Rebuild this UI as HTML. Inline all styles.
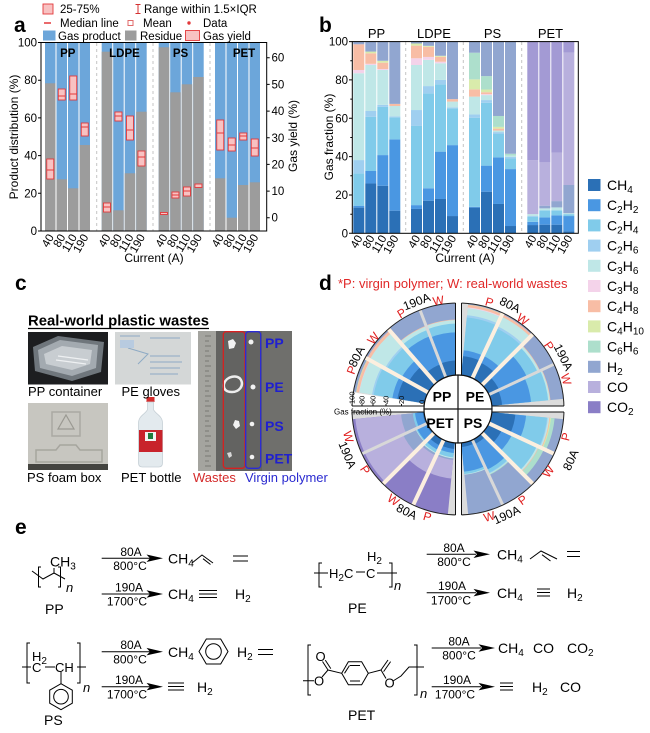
<!DOCTYPE html>
<html><head><meta charset="utf-8">
<style>
html,body{margin:0;padding:0;background:#fff;}
svg{display:block;font-family:"Liberation Sans",Arial,sans-serif;}
.a{fill:#2b70b6}.b{fill:#4a97e2}.c{fill:#80cbea}.d{fill:#9fcff0}.e{fill:#bfe7e7}.f{fill:#f4d3ea}.g{fill:#f8bda5}.h{fill:#d9ebab}.i{fill:#addfcc}.j{fill:#91a6d0}.k{fill:#b8b0dd}.l{fill:#a39ad4}.m{fill:#8a7ec6}
.s{font-size:10px}
.ax{stroke:#000;stroke-width:1;fill:none}
.bx{fill:#f8c2c2;stroke:#e3393b;stroke-width:.9}
.md{stroke:#e3393b;stroke-width:1}
</style></head><body>
<svg width="650" height="733" viewBox="0 0 650 733">
<defs>
<clipPath id="w"><polygon points="0,0 130,-21.75 130,21.75"/></clipPath>
</defs>

<!-- ================= PANEL A ================= -->
<text x="14" y="32" font-size="21" font-weight="bold">a</text>
<g font-size="11.5">
<rect x="43" y="4" width="10" height="10" class="bx"/>
<text x="60" y="13">25-75%</text>
<path d="M135.5 4.5h5M138 4.5v9M135.5 13.5h5" stroke="#d43030" fill="none"/>
<text x="144" y="13">Range within 1.5×IQR</text>
<path d="M44 23h7" stroke="#e3393b" stroke-width="1.5"/>
<text x="60" y="27">Median line</text>
<rect x="128" y="20.5" width="5" height="5" fill="#fff" stroke="#e06a6a"/>
<text x="143" y="27">Mean</text>
<circle cx="189" cy="23" r="1.7" fill="#e3393b"/>
<text x="203" y="27">Data</text>
<rect x="43" y="30.5" width="12.5" height="10" fill="#6ca6da"/>
<text x="58" y="40">Gas product</text>
<rect x="125" y="30.5" width="11.5" height="10" fill="#9c9c9c"/>
<text x="140" y="40">Residue</text>
<rect x="185.5" y="30.5" width="14" height="10" class="bx"/>
<text x="203" y="40">Gas yield</text>
</g>

<!-- bars a -->
<g>
<rect x="45" y="42.5" width="10.5" height="188.5" fill="#6ca6da"/><rect x="45" y="83.3" width="10.5" height="147.7" fill="#9c9c9c"/>
<rect x="56.5" y="42.5" width="10.5" height="188.5" fill="#6ca6da"/><rect x="56.5" y="179.3" width="10.5" height="51.7" fill="#9c9c9c"/>
<rect x="68" y="42.5" width="10.5" height="188.5" fill="#6ca6da"/><rect x="68" y="188.3" width="10.5" height="42.7" fill="#9c9c9c"/>
<rect x="79.5" y="42.5" width="10.5" height="188.5" fill="#6ca6da"/><rect x="79.5" y="145" width="10.5" height="86" fill="#9c9c9c"/>

<rect x="101.7" y="42.5" width="10.5" height="188.5" fill="#6ca6da"/><rect x="101.7" y="51.7" width="10.5" height="179.3" fill="#9c9c9c"/>
<rect x="113.2" y="42.5" width="10.5" height="188.5" fill="#6ca6da"/><rect x="113.2" y="210.3" width="10.5" height="20.7" fill="#9c9c9c"/>
<rect x="124.7" y="42.5" width="10.5" height="188.5" fill="#6ca6da"/><rect x="124.7" y="173.3" width="10.5" height="57.7" fill="#9c9c9c"/>
<rect x="136.2" y="42.5" width="10.5" height="188.5" fill="#6ca6da"/><rect x="136.2" y="111.7" width="10.5" height="119.3" fill="#9c9c9c"/>

<rect x="158.7" y="42.5" width="10.5" height="188.5" fill="#6ca6da"/><rect x="158.7" y="47.3" width="10.5" height="183.7" fill="#9c9c9c"/>
<rect x="170.2" y="42.5" width="10.5" height="188.5" fill="#6ca6da"/><rect x="170.2" y="92.3" width="10.5" height="138.7" fill="#9c9c9c"/>
<rect x="181.7" y="42.5" width="10.5" height="188.5" fill="#6ca6da"/><rect x="181.7" y="84.3" width="10.5" height="146.7" fill="#9c9c9c"/>
<rect x="193.2" y="42.5" width="10.5" height="188.5" fill="#6ca6da"/><rect x="193.2" y="77" width="10.5" height="154" fill="#9c9c9c"/>

<rect x="215" y="42.5" width="10.5" height="188.5" fill="#6ca6da"/><rect x="215" y="178.3" width="10.5" height="52.7" fill="#9c9c9c"/>
<rect x="226.5" y="42.5" width="10.5" height="188.5" fill="#6ca6da"/><rect x="226.5" y="217.7" width="10.5" height="13.3" fill="#9c9c9c"/>
<rect x="238" y="42.5" width="10.5" height="188.5" fill="#6ca6da"/><rect x="238" y="185" width="10.5" height="46" fill="#9c9c9c"/>
<rect x="249.5" y="42.5" width="10.5" height="188.5" fill="#6ca6da"/><rect x="249.5" y="182.3" width="10.5" height="48.7" fill="#9c9c9c"/>
</g>
<g stroke="#c4c4c4" stroke-dasharray="3,3" stroke-width="1">
<line x1="96.7" y1="43" x2="96.7" y2="231"/><line x1="153" y1="43" x2="153" y2="231"/><line x1="210" y1="43" x2="210" y2="231"/>
</g>
<!-- gas yield boxes -->
<g>
<rect x="46.75" y="159" width="7" height="20" class="bx"/><line x1="46.75" x2="53.75" y1="170" y2="170" class="md"/>
<rect x="58.25" y="89" width="7" height="11" class="bx"/><line x1="58.25" x2="65.25" y1="96" y2="96" class="md"/>
<rect x="69.75" y="76" width="7" height="24" class="bx"/><line x1="69.75" x2="76.75" y1="94" y2="94" class="md"/>
<rect x="81.25" y="123" width="7" height="13" class="bx"/><line x1="81.25" x2="88.25" y1="127" y2="127" class="md"/>
<rect x="103.45" y="203" width="7" height="9" class="bx"/><line x1="103.45" x2="110.45" y1="207" y2="207" class="md"/>
<rect x="114.95" y="112" width="7" height="9" class="bx"/><line x1="114.95" x2="121.95" y1="116" y2="116" class="md"/>
<rect x="126.45" y="116" width="7" height="24" class="bx"/><line x1="126.45" x2="133.45" y1="130" y2="130" class="md"/>
<rect x="137.95" y="151" width="7" height="15" class="bx"/><line x1="137.95" x2="144.95" y1="157" y2="157" class="md"/>
<rect x="160.45" y="212.5" width="7" height="2" class="bx"/>
<rect x="171.95" y="192" width="7" height="6" class="bx"/><line x1="171.95" x2="178.95" y1="195" y2="195" class="md"/>
<rect x="183.45" y="187" width="7" height="9" class="bx"/><line x1="183.45" x2="190.45" y1="191" y2="191" class="md"/>
<rect x="194.95" y="184" width="7" height="3.5" class="bx"/>
<rect x="216.75" y="120" width="7" height="30" class="bx"/><line x1="216.75" x2="223.75" y1="133" y2="133" class="md"/>
<rect x="228.25" y="138" width="7" height="13" class="bx"/><line x1="228.25" x2="235.25" y1="145" y2="145" class="md"/>
<rect x="239.75" y="133" width="7" height="7" class="bx"/><line x1="239.75" x2="246.75" y1="136" y2="136" class="md"/>
<rect x="251.25" y="139" width="7" height="17" class="bx"/><line x1="251.25" x2="258.25" y1="148" y2="148" class="md"/>
</g>
<g font-size="11.5" font-weight="bold" text-anchor="middle">
<text x="67.8" y="57">PP</text><text x="124.5" y="57">LDPE</text><text x="180.5" y="57">PS</text><text x="244" y="57">PET</text>
</g>
<!-- axes a -->
<rect x="41" y="42.5" width="225.7" height="188.5" class="ax"/>
<path class="ax" d="M38 42.5h3M38 80.2h3M38 117.9h3M38 155.6h3M38 193.3h3M38 231h3M266.7 57.7h3M266.7 84.4h3M266.7 111.1h3M266.7 137.8h3M266.7 164.4h3M266.7 191.1h3M266.7 217.7h3"/>
<g font-size="11.5" text-anchor="end">
<text x="37" y="46.5">100</text><text x="37" y="84.2">80</text><text x="37" y="121.9">60</text><text x="37" y="159.6">40</text><text x="37" y="197.3">20</text><text x="37" y="235">0</text>
</g>
<g font-size="11.5">
<text x="271.5" y="61.7">60</text><text x="271.5" y="88.4">50</text><text x="271.5" y="115.1">40</text><text x="271.5" y="141.8">30</text><text x="271.5" y="168.4">20</text><text x="271.5" y="195.1">10</text><text x="271.5" y="221.7">0</text>
</g>
<g font-size="11.5" text-anchor="end">
<text transform="translate(54.3,237) rotate(-60)">40</text><text transform="translate(65.8,237) rotate(-60)">80</text><text transform="translate(77.3,237) rotate(-60)">110</text><text transform="translate(88.8,237) rotate(-60)">190</text>
<text transform="translate(111,237) rotate(-60)">40</text><text transform="translate(122.5,237) rotate(-60)">80</text><text transform="translate(134,237) rotate(-60)">110</text><text transform="translate(145.5,237) rotate(-60)">190</text>
<text transform="translate(168,237) rotate(-60)">40</text><text transform="translate(179.5,237) rotate(-60)">80</text><text transform="translate(191,237) rotate(-60)">110</text><text transform="translate(202.5,237) rotate(-60)">190</text>
<text transform="translate(224.3,237) rotate(-60)">40</text><text transform="translate(235.8,237) rotate(-60)">80</text><text transform="translate(247.3,237) rotate(-60)">110</text><text transform="translate(258.8,237) rotate(-60)">190</text>
</g>
<text transform="translate(18,137) rotate(-90)" text-anchor="middle" font-size="12">Product distribution (%)</text>
<text transform="translate(297,136) rotate(-90)" text-anchor="middle" font-size="12">Gas yield (%)</text>
<text x="154" y="262" text-anchor="middle" font-size="12">Current (A)</text>

<!-- ================= PANEL B ================= -->
<text x="319" y="32" font-size="21" font-weight="bold">b</text>
<g font-size="13" text-anchor="middle">
<text x="376.5" y="38">PP</text><text x="434" y="38">LDPE</text><text x="492.5" y="38">PS</text><text x="550.5" y="38">PET</text>
</g>
<g transform="translate(353.3,233.3) scale(1,-1.917)">
<rect class="a" width="11" y="0" height="13.4"/><rect class="b" width="11" y="13.4" height="1"/><rect class="c" width="11" y="14.4" height="16.9"/><rect class="d" width="11" y="31.3" height="6.9"/><rect class="e" width="11" y="38.2" height="45.3"/><rect class="f" width="11" y="83.5" height="1.7"/><rect class="g" width="11" y="85.2" height="13.4"/><rect class="j" width="11" y="98.6" height="1.4"/>
</g>
<g transform="translate(365.3,233.3) scale(1,-1.917)">
<rect class="a" width="11" y="0" height="26"/><rect class="b" width="11" y="26" height="6.5"/><rect class="c" width="11" y="32.5" height="28.3"/><rect class="d" width="11" y="60.8" height="3"/><rect class="e" width="11" y="63.8" height="24"/><rect class="f" width="11" y="87.8" height=".6"/><rect class="g" width="11" y="88.4" height="5.5"/><rect class="h" width="11" y="93.9" height=".9"/><rect class="j" width="11" y="94.8" height="5.2"/>
</g>
<g transform="translate(377.3,233.3) scale(1,-1.917)">
<rect class="a" width="11" y="0" height="24.8"/><rect class="b" width="11" y="24.8" height="16"/><rect class="c" width="11" y="40.8" height="25.2"/><rect class="d" width="11" y="66" height="1"/><rect class="e" width="11" y="67" height="18.2"/><rect class="f" width="11" y="85.2" height=".5"/><rect class="g" width="11" y="85.7" height="3.3"/><rect class="h" width="11" y="89" height="1"/><rect class="j" width="11" y="90" height="10"/>
</g>
<g transform="translate(389.3,233.3) scale(1,-1.917)">
<rect class="a" width="11" y="0" height="11.8"/><rect class="b" width="11" y="11.8" height="37.2"/><rect class="c" width="11" y="49" height="11.5"/><rect class="d" width="11" y="60.5" height=".5"/><rect class="e" width="11" y="61" height="5.4"/><rect class="g" width="11" y="66.4" height="1.1"/><rect class="j" width="11" y="67.5" height="32.5"/>
</g>
<g transform="translate(411,233.3) scale(1,-1.917)">
<rect class="a" width="11" y="0" height="12.7"/><rect class="b" width="11" y="12.7" height="2"/><rect class="c" width="11" y="14.7" height="41.3"/><rect class="d" width="11" y="56" height="8.3"/><rect class="e" width="11" y="64.3" height="23.5"/><rect class="f" width="11" y="87.8" height="3.5"/><rect class="g" width="11" y="91.3" height="6.6"/><rect class="h" width="11" y="97.9" height="1.1"/><rect class="j" width="11" y="99" height="1"/>
</g>
<g transform="translate(423,233.3) scale(1,-1.917)">
<rect class="a" width="11" y="0" height="17"/><rect class="b" width="11" y="17" height="6.5"/><rect class="c" width="11" y="23.5" height="49.5"/><rect class="d" width="11" y="73" height="3.8"/><rect class="e" width="11" y="76.8" height="13.7"/><rect class="f" width="11" y="90.5" height="1.5"/><rect class="g" width="11" y="92" height="5.3"/><rect class="h" width="11" y="97.3" height=".5"/><rect class="j" width="11" y="97.8" height="2.2"/>
</g>
<g transform="translate(435,233.3) scale(1,-1.917)">
<rect class="a" width="11" y="0" height="17.9"/><rect class="b" width="11" y="17.9" height="24.7"/><rect class="c" width="11" y="42.6" height="35.1"/><rect class="d" width="11" y="77.7" height="2.3"/><rect class="e" width="11" y="80" height="8.7"/><rect class="f" width="11" y="88.7" height=".8"/><rect class="g" width="11" y="89.5" height="2.6"/><rect class="h" width="11" y="92.1" height=".5"/><rect class="j" width="11" y="92.6" height="7.4"/>
</g>
<g transform="translate(447,233.3) scale(1,-1.917)">
<rect class="a" width="11" y="0" height="9"/><rect class="b" width="11" y="9" height="37"/><rect class="c" width="11" y="46" height="19.2"/><rect class="d" width="11" y="65.2" height=".5"/><rect class="e" width="11" y="65.7" height="3"/><rect class="g" width="11" y="68.7" height="1.3"/><rect class="j" width="11" y="70" height="30"/>
</g>
<g transform="translate(469,233.3) scale(1,-1.917)">
<rect class="a" width="11" y="0" height="13.4"/><rect class="b" width="11" y="13.4" height=".4"/><rect class="c" width="11" y="13.8" height="46.5"/><rect class="d" width="11" y="60.3" height="1.7"/><rect class="e" width="11" y="62" height="9.3"/><rect class="g" width="11" y="71.3" height="3.8"/><rect class="h" width="11" y="75.1" height="5.2"/><rect class="i" width="11" y="80.3" height="13.9"/><rect class="j" width="11" y="94.2" height="5.8"/>
</g>
<g transform="translate(481,233.3) scale(1,-1.917)">
<rect class="a" width="11" y="0" height="21.7"/><rect class="b" width="11" y="21.7" height="13.6"/><rect class="c" width="11" y="35.3" height="32.8"/><rect class="d" width="11" y="68.1" height="1.4"/><rect class="e" width="11" y="69.5" height="2.6"/><rect class="f" width="11" y="72.1" height=".5"/><rect class="g" width="11" y="72.6" height="1"/><rect class="h" width="11" y="73.6" height="1.4"/><rect class="i" width="11" y="75" height="7"/><rect class="j" width="11" y="82" height="18"/>
</g>
<g transform="translate(493,233.3) scale(1,-1.917)">
<rect class="a" width="11" y="0" height="15.3"/><rect class="b" width="11" y="15.3" height="24.3"/><rect class="c" width="11" y="39.6" height="12.2"/><rect class="d" width="11" y="51.8" height="1"/><rect class="e" width="11" y="52.8" height=".8"/><rect class="g" width="11" y="53.6" height="1"/><rect class="h" width="11" y="54.6" height=".9"/><rect class="i" width="11" y="55.5" height="5.7"/><rect class="j" width="11" y="61.2" height="38.8"/>
</g>
<g transform="translate(505,233.3) scale(1,-1.917)">
<rect class="a" width="11" y="0" height="3.8"/><rect class="b" width="11" y="3.8" height="29.7"/><rect class="c" width="11" y="33.5" height="5.5"/><rect class="d" width="11" y="39" height=".8"/><rect class="e" width="11" y="39.8" height=".8"/><rect class="i" width="11" y="40.6" height=".9"/><rect class="j" width="11" y="41.5" height="58.5"/>
</g>
<g transform="translate(527.3,233.3) scale(1,-1.917)">
<rect class="a" width="11" y="0" height="4.3"/><rect class="b" width="11" y="4.3" height="1.7"/><rect class="c" width="11" y="6" height="2.5"/><rect class="d" width="11" y="8.5" height=".5"/><rect class="e" width="11" y="9" height="1"/><rect class="k" width="11" y="10" height="28.2"/><rect class="l" width="11" y="38.2" height="61.8"/>
</g>
<g transform="translate(539.3,233.3) scale(1,-1.917)">
<rect class="a" width="11" y="0" height="4.5"/><rect class="b" width="11" y="4.5" height="3.8"/><rect class="c" width="11" y="8.3" height="3.7"/><rect class="e" width="11" y="12" height="1"/><rect class="j" width="11" y="13" height="1.4"/><rect class="k" width="11" y="14.4" height="22.6"/><rect class="l" width="11" y="37" height="63"/>
</g>
<g transform="translate(551.3,233.3) scale(1,-1.917)">
<rect class="a" width="11" y="0" height="4.5"/><rect class="b" width="11" y="4.5" height="4.9"/><rect class="c" width="11" y="9.4" height="2.6"/><rect class="e" width="11" y="12" height="1.5"/><rect class="j" width="11" y="13.5" height="3.3"/><rect class="k" width="11" y="16.8" height="25.2"/><rect class="l" width="11" y="42" height="58"/>
</g>
<g transform="translate(563.3,233.3) scale(1,-1.917)">
<rect class="a" width="11" y="0" height="1"/><rect class="b" width="11" y="1" height="8"/><rect class="c" width="11" y="9" height="1"/><rect class="e" width="11" y="10" height=".5"/><rect class="j" width="11" y="10.5" height="14.7"/><rect class="k" width="11" y="25.2" height="69"/><rect class="l" width="11" y="94.2" height="5.8"/>
</g>
<g stroke="#c4c4c4" stroke-dasharray="3,3" stroke-width="1">
<line x1="405.7" y1="42" x2="405.7" y2="233"/><line x1="463.3" y1="42" x2="463.3" y2="233"/><line x1="521.7" y1="42" x2="521.7" y2="233"/>
</g>
<rect x="352.3" y="41.6" width="226" height="191.7" class="ax"/>
<path class="ax" d="M349 41.6h3.3M349 79.9h3.3M349 118.3h3.3M349 156.6h3.3M349 195h3.3M349 233.3h3.3M350.3 60.8h2M350.3 99.1h2M350.3 137.5h2M350.3 175.8h2M350.3 214.2h2"/>
<g font-size="11.5" text-anchor="end">
<text x="348" y="45.6">100</text><text x="348" y="83.9">80</text><text x="348" y="122.3">60</text><text x="348" y="160.6">40</text><text x="348" y="199">20</text><text x="348" y="237.3">0</text>
</g>
<g font-size="11.5" text-anchor="end">
<text transform="translate(363,238) rotate(-60)">40</text><text transform="translate(375,238) rotate(-60)">80</text><text transform="translate(387,238) rotate(-60)">110</text><text transform="translate(399,238) rotate(-60)">190</text>
<text transform="translate(420.7,238) rotate(-60)">40</text><text transform="translate(432.7,238) rotate(-60)">80</text><text transform="translate(444.7,238) rotate(-60)">110</text><text transform="translate(456.7,238) rotate(-60)">190</text>
<text transform="translate(478.7,238) rotate(-60)">40</text><text transform="translate(490.7,238) rotate(-60)">80</text><text transform="translate(502.7,238) rotate(-60)">110</text><text transform="translate(514.7,238) rotate(-60)">190</text>
<text transform="translate(537,238) rotate(-60)">40</text><text transform="translate(549,238) rotate(-60)">80</text><text transform="translate(561,238) rotate(-60)">110</text><text transform="translate(573,238) rotate(-60)">190</text>
</g>
<text transform="translate(333,137) rotate(-90)" text-anchor="middle" font-size="12">Gas fraction (%)</text>
<text x="465" y="262" text-anchor="middle" font-size="12">Current (A)</text>

<!-- legend b -->
<g>
<rect x="588" y="179" width="12.5" height="12" class="a"/>
<rect x="588" y="199.2" width="12.5" height="12" class="b"/>
<rect x="588" y="219.4" width="12.5" height="12" class="c"/>
<rect x="588" y="239.6" width="12.5" height="12" class="d"/>
<rect x="588" y="259.8" width="12.5" height="12" class="e"/>
<rect x="588" y="280" width="12.5" height="12" class="f"/>
<rect x="588" y="300.2" width="12.5" height="12" class="g"/>
<rect x="588" y="320.4" width="12.5" height="12" class="h"/>
<rect x="588" y="340.6" width="12.5" height="12" class="i"/>
<rect x="588" y="360.8" width="12.5" height="12" class="j"/>
<rect x="588" y="381" width="12.5" height="12" class="k"/>
<rect x="588" y="401.2" width="12.5" height="12" class="m"/>
</g>
<g font-size="14">
<text x="607" y="190">CH<tspan class="s" dy="3">4</tspan></text>
<text x="607" y="210.2">C<tspan class="s" dy="3">2</tspan><tspan dy="-3">H</tspan><tspan class="s" dy="3">2</tspan></text>
<text x="607" y="230.4">C<tspan class="s" dy="3">2</tspan><tspan dy="-3">H</tspan><tspan class="s" dy="3">4</tspan></text>
<text x="607" y="250.6">C<tspan class="s" dy="3">2</tspan><tspan dy="-3">H</tspan><tspan class="s" dy="3">6</tspan></text>
<text x="607" y="270.8">C<tspan class="s" dy="3">3</tspan><tspan dy="-3">H</tspan><tspan class="s" dy="3">6</tspan></text>
<text x="607" y="291">C<tspan class="s" dy="3">3</tspan><tspan dy="-3">H</tspan><tspan class="s" dy="3">8</tspan></text>
<text x="607" y="311.2">C<tspan class="s" dy="3">4</tspan><tspan dy="-3">H</tspan><tspan class="s" dy="3">8</tspan></text>
<text x="607" y="331.4">C<tspan class="s" dy="3">4</tspan><tspan dy="-3">H</tspan><tspan class="s" dy="3">10</tspan></text>
<text x="607" y="351.6">C<tspan class="s" dy="3">6</tspan><tspan dy="-3">H</tspan><tspan class="s" dy="3">6</tspan></text>
<text x="607" y="371.8">H<tspan class="s" dy="3">2</tspan></text>
<text x="607" y="392">CO</text>
<text x="607" y="412.2">CO<tspan class="s" dy="3">2</tspan></text>
</g>

<!-- ================= PANEL C ================= -->
<text x="15" y="290" font-size="21" font-weight="bold">c</text>
<text x="28" y="325.5" font-size="14.5" font-weight="bold" textLength="181" lengthAdjust="spacingAndGlyphs">Real-world plastic wastes</text>
<line x1="28" y1="328.5" x2="209" y2="328.5" stroke="#000" stroke-width="1.2"/>
<!-- PP container photo -->
<rect x="28" y="332" width="80" height="52.5" fill="#1d1e20"/>
<path d="M33 347 L58 336 L104 342 L101 372 L72 381 L35 371 Z" fill="#6f767c"/>
<path d="M38 350 L60 340 L98 345 L96 368 L72 376 L40 368 Z" fill="#a3aab0"/>
<path d="M44 354 L62 346 L92 350 L90 364 L72 370 L46 364 Z" fill="#c8cdd1"/>
<path d="M58 356 L88 360 M56 360 L86 364" stroke="#eef0f2" stroke-width="1.2" fill="none"/>
<!-- PE gloves photo -->
<rect x="115" y="332" width="76" height="52.5" fill="#d4d7d7"/>
<path d="M120 336 h20 M150 338 h30 M128 348 l20 6 l-10 10 M150 356 h30 M150 362 h32 M150 368 h30 M150 374 h28" stroke="#8eaac4" stroke-width="1" fill="none"/>
<rect x="120" y="340" width="14" height="8" fill="#b8cbe0"/>
<!-- PS foam box -->
<rect x="28" y="403" width="80" height="67" fill="#c7c6c0"/>
<path d="M52 412 h28 v24 h-28z" fill="none" stroke="#aaa9a2" stroke-width="1.5"/>
<path d="M66 415 l8 14 h-16z" fill="none" stroke="#9a9992" stroke-width="1.2"/>
<path d="M36 450 h20 l4 -5 h16 l4 5 h22 v12 h-66z" fill="none" stroke="#a6a59e" stroke-width="1.5"/>
<rect x="28" y="464" width="80" height="6" fill="#444440"/>
<!-- PET bottle -->
<rect x="146.5" y="397" width="8" height="5" fill="#d42a2a"/>
<path d="M147.5 402 h6 v7 c0 4 9 6 9 14 v40 c0 3 -2 4 -4 4 h-16 c-2 0 -4 -1 -4 -4 v-40 c0 -8 9 -10 9 -14z" fill="#e3eaee" stroke="#c6d0d6" stroke-width=".8"/>
<rect x="139" y="430" width="23.5" height="22" fill="#c8232b"/>
<rect x="145" y="432" width="11" height="9" fill="#f2f2f2"/>
<rect x="148" y="433" width="5" height="6" fill="#1e7a3a"/>
<!-- right photo -->
<rect x="198" y="331" width="94" height="140" fill="#636361"/>
<rect x="198" y="331" width="18" height="140" fill="#a4a49f"/>
<path d="M205 336h6M205 341h4M205 346h6M205 351h4M205 356h6M205 361h4M205 366h6M205 371h4M205 376h6M205 381h4M205 386h6M205 391h4M205 396h6M205 401h4M205 406h6M205 411h4M205 416h6M205 421h4M205 426h6M205 431h4M205 436h6M205 441h4M205 446h6M205 451h4M205 456h6M205 461h4M205 466h6" stroke="#6b6b66" stroke-width=".7"/>
<rect x="262" y="331" width="30" height="140" fill="#6f6f6c"/>
<g fill="#f2f2f2">
<path d="M228 341 l5 -2 l3 4 l-2 5 l-5 1 z"/>
<path d="M224 384 c2 -8 14 -10 17 -4 c3 6 -2 12 -9 12 c-6 0 -9 -3 -8 -8z" fill="none" stroke="#ededed" stroke-width="2.5"/>
<path d="M235 420 l4 1 l1 5 l-4 3 l-3 -4 z"/>
<path d="M227 453 l4 -1 l1 4 l-3 2 z" fill="#d8d8d8"/>
<circle cx="251" cy="342" r="2.5"/><circle cx="253" cy="387" r="2.5"/><circle cx="252" cy="424" r="2.3"/><circle cx="252" cy="457" r="2.3"/>
</g>
<rect x="223.3" y="331.7" width="21.7" height="136.6" rx="3" fill="none" stroke="#d82020" stroke-width="1.3"/>
<rect x="245.7" y="331.7" width="15" height="136.6" rx="3" fill="none" stroke="#2a2ad8" stroke-width="1.3"/>
<g font-size="14" font-weight="bold" fill="#1f1fd0">
<text x="265" y="348">PP</text><text x="265" y="392">PE</text><text x="265" y="431">PS</text><text x="265" y="463.5">PET</text>
</g>
<g font-size="13">
<text x="28" y="396">PP container</text>
<text x="121.5" y="396">PE gloves</text>
<text x="27" y="482">PS foam box</text>
<text x="121" y="482">PET bottle</text>
<text x="193" y="482" fill="#d42a2a">Wastes</text>
<text x="245" y="482" fill="#2a2ad0">Virgin polymer</text>
</g>

<!-- ================= PANEL D ================= -->
<text x="319" y="290" font-size="21" font-weight="bold">d</text>
<text x="338" y="288" font-size="13" fill="#e02828">*P: virgin polymer; W: real-world wastes</text>

<circle cx="458" cy="409" r="106" fill="#dcdcdc"/>
<polygon points="458,409 328,388.4 328,409" fill="#fff"/>
<!-- PP quadrant -->
<g clip-path="url(#w)" transform="translate(458,409) rotate(-161)">
<circle r="106" class="j"/><circle r="103.35" class="h"/><circle r="102.86" class="g"/><circle r="100.38" class="f"/><circle r="100.13" class="e"/><circle r="87.22" class="d"/><circle r="85.47" class="c"/><circle r="66.57" class="b"/><circle r="61.46" class="a"/>
</g>
<g clip-path="url(#w)" transform="translate(458,409) rotate(-141)">
<circle r="106" class="j"/><circle r="104.08" class="g"/><circle r="101.13" class="e"/><circle r="83.68" class="d"/><circle r="81.85" class="c"/><circle r="64.65" class="b"/><circle r="56.32" class="a"/>
</g>
<g clip-path="url(#w)" transform="translate(458,409) rotate(-121)">
<circle r="106" class="j"/><circle r="89.22" class="g"/><circle r="88.65" class="e"/><circle r="84.88" class="c"/><circle r="78.07" class="b"/><circle r="48.12" class="a"/>
</g>
<g clip-path="url(#w)" transform="translate(458,409) rotate(-101)">
<circle r="106" class="j"/><circle r="89.5" class="g"/><circle r="88.94" class="e"/><circle r="85.47" class="c"/><circle r="76.77" class="b"/><circle r="48.64" class="a"/>
</g>
<!-- PE quadrant -->
<g clip-path="url(#w)" transform="translate(458,409) rotate(-75)">
<circle r="106" class="j"/><circle r="104.81" class="h"/><circle r="104.56" class="g"/><circle r="102.13" class="f"/><circle r="101.38" class="e"/><circle r="94.17" class="d"/><circle r="92" class="c"/><circle r="58.94" class="b"/><circle r="53.1" class="a"/>
</g>
<g clip-path="url(#w)" transform="translate(458,409) rotate(-55)">
<circle r="106" class="j"/><circle r="104.56" class="g"/><circle r="102.13" class="e"/><circle r="91.73" class="d"/><circle r="89.5" class="c"/><circle r="58.94" class="b"/><circle r="51.65" class="a"/>
</g>
<g clip-path="url(#w)" transform="translate(458,409) rotate(-35)">
<circle r="106" class="j"/><circle r="90.62" class="g"/><circle r="90.06" class="e"/><circle r="87.8" class="c"/><circle r="76.11" class="b"/><circle r="45.42" class="a"/>
</g>
<g clip-path="url(#w)" transform="translate(458,409) rotate(-15)">
<circle r="106" class="j"/><circle r="92.82" class="g"/><circle r="92.27" class="e"/><circle r="90.62" class="c"/><circle r="73.41" class="b"/><circle r="44.3" class="a"/>
</g>
<!-- PS quadrant -->
<g clip-path="url(#w)" transform="translate(458,409) rotate(15)">
<circle r="106" class="j"/><circle r="97.06" class="i"/><circle r="93.36" class="h"/><circle r="92.55" class="g"/><circle r="91.73" class="e"/><circle r="90.34" class="d"/><circle r="89.5" class="c"/><circle r="68.44" class="b"/><circle r="57.65" class="a"/>
</g>
<g clip-path="url(#w)" transform="translate(458,409) rotate(35)">
<circle r="106" class="j"/><circle r="94.97" class="i"/><circle r="89.5" class="g"/><circle r="88.94" class="e"/><circle r="87.22" class="c"/><circle r="59.79" class="b"/><circle r="48.64" class="a"/>
</g>
<g clip-path="url(#w)" transform="translate(458,409) rotate(55)">
<circle r="106" class="j"/><circle r="73.07" class="i"/><circle r="72.38" class="e"/><circle r="71.68" class="d"/><circle r="70.97" class="c"/><circle r="67.33" class="b"/><circle r="38.84" class="a"/>
</g>
<g clip-path="url(#w)" transform="translate(458,409) rotate(75)">
<circle r="106" class="j"/><circle r="66.19" class="e"/><circle r="65.43" class="c"/><circle r="63.07" class="b"/><circle r="38.19" class="a"/>
</g>
<!-- PET quadrant -->
<g clip-path="url(#w)" transform="translate(458,409) rotate(105)">
<circle r="106" class="m"/><circle r="69.9" class="k"/><circle r="51.16" class="j"/><circle r="49.66" class="e"/><circle r="48.64" class="c"/><circle r="44.3" class="b"/><circle r="40.12" class="a"/>
</g>
<g clip-path="url(#w)" transform="translate(458,409) rotate(125)">
<circle r="106" class="m"/><circle r="70.61" class="k"/><circle r="51.65" class="j"/><circle r="49.66" class="e"/><circle r="48.64" class="c"/><circle r="45.42" class="b"/><circle r="40.74" class="a"/>
</g>
<g clip-path="url(#w)" transform="translate(458,409) rotate(145)">
<circle r="106" class="m"/><circle r="103.11" class="k"/><circle r="60.63" class="j"/><circle r="47.06" class="e"/><circle r="46.52" class="c"/><circle r="45.42" class="b"/><circle r="35.45" class="a"/>
</g>
<g clip-path="url(#w)" transform="translate(458,409) rotate(165)">
<circle r="106" class="m"/><circle r="103.11" class="k"/><circle r="57.21" class="j"/><circle r="45.42" class="c"/><circle r="43.15" class="b"/><circle r="35.45" class="a"/>
</g>
<!-- strips -->
<g fill="#fcefdf">
<rect x="34" y="-2" width="72" height="4" transform="translate(458,409) rotate(-151)"/>
<rect x="34" y="-2" width="72" height="4" transform="translate(458,409) rotate(-131)"/>
<rect x="34" y="-2" width="72" height="4" transform="translate(458,409) rotate(-65)"/>
<rect x="34" y="-2" width="72" height="4" transform="translate(458,409) rotate(-45)"/>
<rect x="34" y="-2" width="72" height="4" transform="translate(458,409) rotate(25)"/>
<rect x="34" y="-2" width="72" height="4" transform="translate(458,409) rotate(45)"/>
<rect x="34" y="-2" width="72" height="4" transform="translate(458,409) rotate(115)"/>
<rect x="34" y="-2" width="72" height="4" transform="translate(458,409) rotate(135)"/>
</g>
<g fill="#d8d8d8">
<rect x="34" y="-1.5" width="72" height="3" transform="translate(458,409) rotate(-111)"/>
<rect x="34" y="-1.5" width="72" height="3" transform="translate(458,409) rotate(-25)"/>
<rect x="34" y="-1.5" width="72" height="3" transform="translate(458,409) rotate(65)"/>
<rect x="34" y="-1.5" width="72" height="3" transform="translate(458,409) rotate(155)"/>
</g>
<circle cx="458" cy="409" r="106" fill="none" stroke="#222" stroke-width="1"/>
<rect x="455.5" y="300" width="6" height="218" fill="#fff"/>
<rect x="349" y="406" width="218" height="6" fill="#fff"/>
<path d="M455.5 303V375M461.5 303V375M455.5 443V515M461.5 443V515M352 406H424M352 412H424M492 406H564M492 412H564" stroke="#111" stroke-width="1"/>
<circle cx="458" cy="409" r="34" fill="#fff" stroke="#111" stroke-width="1.2"/>
<path d="M458 375V443M424 409H492" stroke="#111" stroke-width="1.2"/>
<g font-size="14" font-weight="bold" text-anchor="middle">
<text x="442" y="401.5">PP</text><text x="475" y="401.5">PE</text><text x="440" y="428">PET</text><text x="473" y="428">PS</text>
</g>
<!-- PP axis labels -->
<path d="M352 406v-2M362 406v-2M373 406v-2M386 406v-2M401.5 406v-2M424 406v-2" stroke="#111"/>
<g font-size="7.5">
<text transform="translate(354.7,404) rotate(-90)">100</text>
<text transform="translate(364.7,404) rotate(-90)">80</text>
<text transform="translate(375.7,404) rotate(-90)">60</text>
<text transform="translate(388.7,404) rotate(-90)">40</text>
<text transform="translate(404.2,404) rotate(-90)">20</text>
<text transform="translate(424.7,404) rotate(-90)">0</text>
</g>
<text x="334" y="414.5" font-size="8">Gas fraction (%)</text>
<!-- polar labels -->
<g font-size="12" text-anchor="middle">
<g fill="#e02020">
<text transform="translate(351.7,370) rotate(-69.9)" dy="4">P</text>
<text transform="translate(373.3,338.3) rotate(-50)" dy="4">W</text>
<text transform="translate(401.7,313.3) rotate(-30.5)" dy="4">P</text>
<text transform="translate(438.3,300.7) rotate(-10.3)" dy="4">W</text>
<text transform="translate(489.3,302.3) rotate(16.4)" dy="4">P</text>
<text transform="translate(522.7,319.3) rotate(35.8)" dy="4">W</text>
<text transform="translate(549,346) rotate(55.3)" dy="4">P</text>
<text transform="translate(566,379.3) rotate(74.6)" dy="4">W</text>
<text transform="translate(566,436.7) rotate(-75.6)" dy="4">P</text>
<text transform="translate(548.3,471.7) rotate(-55.2)" dy="4">W</text>
<text transform="translate(522.7,500) rotate(-35.4)" dy="4">P</text>
<text transform="translate(489.3,516.7) rotate(-16.2)" dy="4">W</text>
<text transform="translate(427.3,516.7) rotate(15.9)" dy="4">P</text>
<text transform="translate(393.3,500) rotate(35.4)" dy="4">W</text>
<text transform="translate(365,470) rotate(56.7)" dy="4">P</text>
<text transform="translate(348.3,436.7) rotate(75.8)" dy="4">W</text>
</g>
<text transform="translate(356.7,356.7) rotate(-62.7)" dy="4">80A</text>
<text transform="translate(416.7,301.7) rotate(-21)" dy="4">190A</text>
<text transform="translate(510,305) rotate(26.6)" dy="4">80A</text>
<text transform="translate(563.3,357.3) rotate(63.9)" dy="4">190A</text>
<text transform="translate(570.7,460) rotate(-65.7)" dy="4">80A</text>
<text transform="translate(506.7,515) rotate(-24.7)" dy="4">190A</text>
<text transform="translate(406.7,511.7) rotate(26.5)" dy="4">80A</text>
<text transform="translate(347.3,455) rotate(67.4)" dy="4">190A</text>
</g>

<!-- ================= PANEL E ================= -->
<text x="15" y="534" font-size="21" font-weight="bold">e</text>
<g stroke="#000" stroke-width="1" fill="none">
<!-- PP -->
<path d="M54 568V573 M32 571 L43 579 L54 573 L65 579"/>
<path d="M41 567h-2.5v20h2.5 M58 567h2.5v20h-2.5"/>
<!-- PS -->
<path d="M30 643h-3v40h3 M77 643h3v40h-3 M22 667h9 M45 667h10 M77 667h9 M61 672V683.7"/>
<polygon points="61,683.7 72.3,690.2 72.3,703.2 61,709.7 49.7,703.2 49.7,690.2"/>
<circle cx="61" cy="696.7" r="7.3"/>
<!-- PE -->
<path d="M322 563h-3v24h3 M389 563h3v24h-3 M314 573h14 M356 572h9 M377 573h20"/>
<!-- PET -->
<path d="M311 645h-3v50h3 M414 645h3v50h-3 M303 680.7h11 M322 677 L328 670 M328 670 L322.5 661.5 M330.8 668.6 L325.3 660.1 M328 670 L341.7 673.3 M368.3 673.3 L381 670 M381 670 L388 660 M383.6 671.6 L390.6 661.6 M381 670 L386 678.5 M393 681 L401 676 L409 667 H424"/>
<polygon points="341.7,673.3 348.35,661.8 361.65,661.8 368.3,673.3 361.65,684.8 348.35,684.8"/>
<path d="M350 665.5 H360 M350 681 H360 M344.5 673.3 L349.5 665.5" />
<!-- product benzene -->
<polygon points="199,651.5 206.3,639 220.7,639 228,651.5 220.7,664 206.3,664"/>
<circle cx="213.5" cy="651.5" r="7.8"/>
<!-- propene & ethylene -->
<path d="M192 563 L202 555 L213 563 M203 558.7 L210.5 564.5 M233 556h15M233 561h15"/>
<path d="M530 559 L541 551 L557 559 M542 554.7 L550.5 561 M567 551.5h13M567 556.5h13"/>
<!-- triple bonds -->
<path d="M199 590.5h18M199 594h18M199 597.5h18"/>
<path d="M537 589h13M537 592.5h13M537 596h13"/>
<path d="M168 683h16M168 686.5h16M168 690h16"/>
<path d="M500 683h13M500 686.5h13M500 690h13"/>
<path d="M258 649.5h15M258 654.5h15"/>
<!-- arrow lines -->
<path d="M101.7 558.3H150M101.7 594H150M101.7 651.7H150M101.7 686.7H150M426.7 554.3H476M426.7 592.7H476M431.7 648H481M431.7 686.7H481"/>
</g>
<g fill="#000">
<polygon points="146.5,554.5 163,558.3 146.5,562 150,558.3"/>
<polygon points="146.5,590.2 163,594 146.5,597.7 150,594"/>
<polygon points="146.5,647.9 163,651.7 146.5,655.4 150,651.7"/>
<polygon points="146.5,682.9 163,686.7 146.5,690.4 150,686.7"/>
<polygon points="473.5,550.5 490,554.3 473.5,558 477,554.3"/>
<polygon points="473.5,588.9 490,592.7 473.5,596.4 477,592.7"/>
<polygon points="478.5,644.2 495,648 478.5,651.7 482,648"/>
<polygon points="478.5,682.9 495,686.7 478.5,690.4 482,686.7"/>
</g>
<g font-size="12" text-anchor="middle">
<text x="131" y="555.8">80A</text><text x="130" y="570">800°C</text>
<text x="129" y="591.5">190A</text><text x="127" y="605.7">1700°C</text>
<text x="131" y="649.2">80A</text><text x="130" y="663.4">800°C</text>
<text x="129" y="684.2">190A</text><text x="127" y="698.4">1700°C</text>
<text x="454" y="551.8">80A</text><text x="454" y="566">800°C</text>
<text x="452" y="590.2">190A</text><text x="451" y="604.4">1700°C</text>
<text x="459" y="645.5">80A</text><text x="459" y="659.7">800°C</text>
<text x="457" y="684.2">190A</text><text x="455" y="698.4">1700°C</text>
</g>
<g font-size="14">
<!-- structures text -->
<text x="50" y="566.5">CH<tspan class="s" dy="3">3</tspan></text>
<text x="66" y="592" font-style="italic" font-size="13">n</text>
<text x="45" y="614">PP</text>
<text x="32" y="661" font-size="13">H<tspan class="s" dy="3">2</tspan></text>
<text x="32" y="672" font-size="13">C</text>
<text x="55" y="672" font-size="13">CH</text>
<text x="83" y="692" font-style="italic" font-size="13">n</text>
<text x="44" y="725">PS</text>
<text x="329" y="578" font-size="13">H<tspan class="s" dy="3">2</tspan><tspan dy="-3">C</tspan></text>
<text x="366" y="578" font-size="13">C</text>
<text x="367" y="561" font-size="13">H<tspan class="s" dy="3">2</tspan></text>
<text x="394" y="590" font-style="italic" font-size="13">n</text>
<text x="348" y="613">PE</text>
<text x="314" y="685.5" font-size="13">O</text>
<text x="315.5" y="661" font-size="13">O</text>
<text x="384.5" y="687.5" font-size="13">O</text>
<text x="420" y="698" font-style="italic" font-size="13">n</text>
<text x="348" y="720">PET</text>
<!-- products -->
<text x="168" y="563.5">CH<tspan class="s" dy="3">4</tspan></text>
<text x="168" y="599">CH<tspan class="s" dy="3">4</tspan></text>
<text x="235" y="599">H<tspan class="s" dy="3">2</tspan></text>
<text x="168" y="657">CH<tspan class="s" dy="3">4</tspan></text>
<text x="237" y="657">H<tspan class="s" dy="3">2</tspan></text>
<text x="197" y="692">H<tspan class="s" dy="3">2</tspan></text>
<text x="497" y="559.5">CH<tspan class="s" dy="3">4</tspan></text>
<text x="497" y="598">CH<tspan class="s" dy="3">4</tspan></text>
<text x="567" y="598">H<tspan class="s" dy="3">2</tspan></text>
<text x="498" y="653">CH<tspan class="s" dy="3">4</tspan></text>
<text x="533" y="653">CO</text>
<text x="567" y="653">CO<tspan class="s" dy="3">2</tspan></text>
<text x="532" y="692">H<tspan class="s" dy="3">2</tspan></text>
<text x="560" y="692">CO</text>
</g>
</svg>
</body></html>
